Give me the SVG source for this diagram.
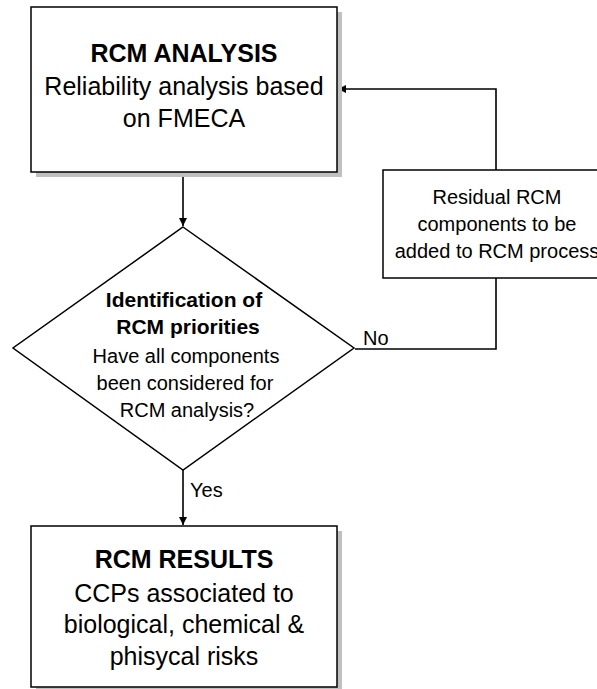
<svg xmlns="http://www.w3.org/2000/svg" width="597" height="689" viewBox="0 0 597 689">
  <style>
    .box { fill: #ffffff; stroke: #000000; stroke-width: 1.5; }
    .shadow { fill: #c0c0c0; stroke: none; }
    .edge { fill: none; stroke: #000000; stroke-width: 1.6; }
    text { font-family: "Liberation Sans", Arial, sans-serif; fill: #000000; text-anchor: middle; }
    .big { font-size: 25px; }
    .bigb { font-size: 25px; font-weight: bold; }
    .mid { font-size: 20px; }
    .midb { font-size: 21px; font-weight: bold; }
    .lbl { font-size: 20px; text-anchor: start; }
  </style>
  <defs>
    <marker id="arrow" viewBox="0 0 10 10" refX="10" refY="5" markerWidth="5" markerHeight="5" markerUnits="strokeWidth" orient="auto">
      <path d="M0,0 L10,5 L0,10 z" fill="#000000"/>
    </marker>
  </defs>
  <rect width="597" height="689" fill="#ffffff"/>

  <g id="connectors">
    <line class="edge" x1="183" y1="173" x2="183" y2="226" marker-end="url(#arrow)"/>
    <line class="edge" x1="183" y1="470" x2="183" y2="525" marker-end="url(#arrow)"/>
    <polyline class="edge" points="355,349 496,349 496,278"/>
    <polyline class="edge" points="496,170 496,89 338,89" marker-end="url(#arrow)"/>
    <text class="lbl" x="190" y="497">Yes</text>
    <text class="lbl" x="363" y="345">No</text>
  </g>

  <g id="rcm-analysis">
    <rect class="shadow" x="36" y="12" width="306" height="165"/>
    <rect class="box" x="31" y="7" width="306" height="165"/>
    <text class="bigb" x="184" y="62">RCM ANALYSIS</text>
    <text class="big" x="184" y="95">Reliability analysis based</text>
    <text class="big" x="184" y="127">on FMECA</text>
  </g>

  <g id="residual">
    <rect class="box" x="383" y="170" width="228" height="108"/>
    <text class="mid" x="497" y="204">Residual RCM</text>
    <text class="mid" x="497" y="231">components to be</text>
    <text class="mid" x="497" y="258">added to RCM process</text>
  </g>

  <g id="priorities">
    <polygon class="box" points="183,227 354,348 183,470 13,348"/>
    <text class="midb" x="184" y="307">Identification of</text>
    <text class="midb" x="188" y="334">RCM priorities</text>
    <text class="mid" x="186" y="363">Have all components</text>
    <text class="mid" x="185" y="390">been considered for</text>
    <text class="mid" x="187" y="417">RCM analysis?</text>
  </g>

  <g id="rcm-results">
    <rect class="shadow" x="36" y="531" width="306" height="165"/>
    <rect class="box" x="31" y="526" width="306" height="161"/>
    <text class="bigb" x="184" y="568">RCM RESULTS</text>
    <text class="big" x="184" y="602">CCPs associated to</text>
    <text class="big" x="184" y="633">biological, chemical &amp;</text>
    <text class="big" x="184" y="665">phisycal risks</text>
  </g>
</svg>
